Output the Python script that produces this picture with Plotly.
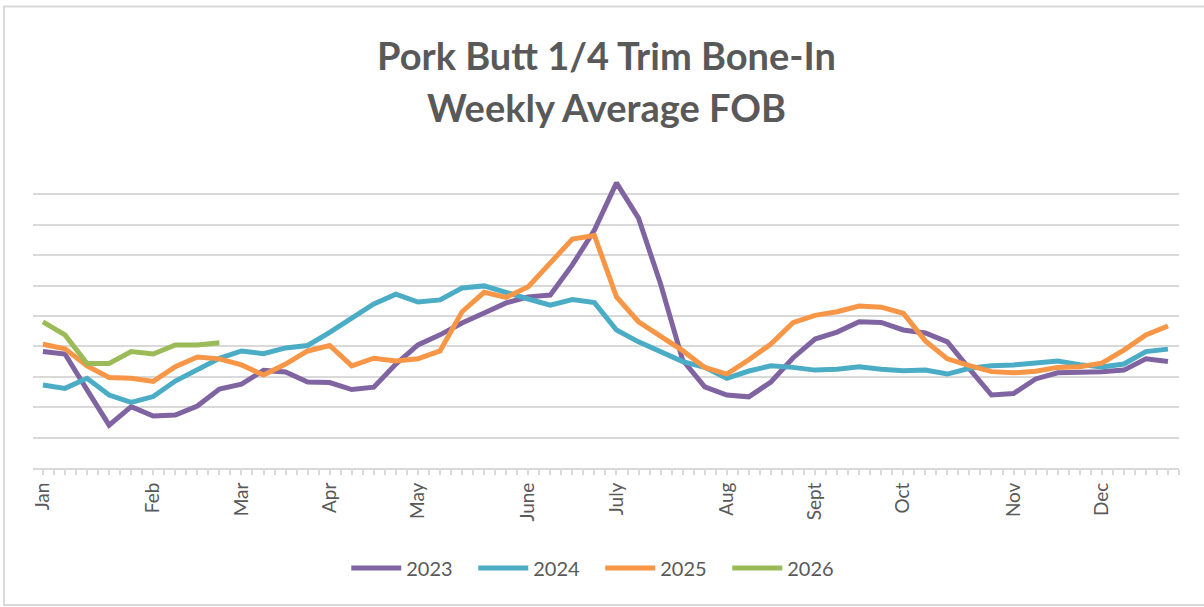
import plotly.graph_objects as go

weeks = list(range(52))
month_pos = [0, 5, 9, 13, 17, 22, 26, 31, 35, 39, 44, 48]
month_labels = ["Jan", "Feb", "Mar", "Apr", "May", "June", "July", "Aug", "Sept", "Oct", "Nov", "Dec"]

y2023 = [78.3, 77.5, 65.7, 54.1, 60.2, 57.1, 57.4, 60.4, 66.0, 67.6, 72.1, 71.6, 68.3, 68.1, 65.8, 66.6,
         74.2, 80.5, 83.8, 87.7, 91.0, 94.3, 96.3, 96.9, 106.8, 118.3, 133.8, 122.2, 100.5, 75.5, 66.7, 64.0,
         63.4, 68.3, 76.2, 82.4, 84.7, 88.1, 87.9, 85.4, 84.4, 81.5, 72.6, 64.0, 64.5, 69.3, 71.3, 71.3,
         71.7, 72.2, 75.9, 75.0]
y2024 = [67.3, 66.2, 69.5, 64.0, 61.6, 63.5, 68.6, 72.2, 76.1, 78.5, 77.6, 79.5, 80.3, 84.6, 89.2, 94.0,
         97.2, 94.6, 95.3, 99.2, 99.9, 97.6, 95.6, 93.6, 95.4, 94.4, 85.4, 81.5, 78.3, 75.0, 73.1, 69.5,
         71.9, 73.6, 73.1, 72.2, 72.5, 73.3, 72.5, 72.0, 72.2, 70.9, 72.8, 73.6, 73.9, 74.4, 75.2, 74.0,
         73.2, 74.2, 78.3, 79.1]
y2025 = [80.7, 79.2, 73.6, 69.8, 69.5, 68.5, 73.3, 76.5, 75.9, 73.9, 70.6, 74.2, 78.5, 80.3, 73.6, 76.1,
         75.2, 75.9, 78.5, 91.4, 97.8, 96.1, 99.6, 107.6, 115.3, 116.5, 96.3, 88.1, 83.5, 78.6, 73.1, 70.9,
         75.6, 80.8, 87.8, 90.2, 91.4, 93.3, 92.9, 90.9, 81.8, 75.9, 73.7, 71.7, 71.3, 71.8, 73.1, 73.3,
         74.5, 78.8, 83.8, 86.7]
y2026 = [88.1, 83.8, 74.4, 74.4, 78.3, 77.5, 80.5, 80.5, 81.2]

series = [
    ("2023", y2023, "#8064A2"),
    ("2024", y2024, "#4BACC6"),
    ("2025", y2025, "#F79646"),
    ("2026", y2026, "#9BBB59"),
]

font_family = "Lato, 'Open Sans', sans-serif"
text_color = "#595959"

fig = go.Figure()
for name, vals, color in series:
    fig.add_trace(go.Scatter(
        x=weeks[:len(vals)], y=vals, mode="lines", name=name,
        line=dict(color=color, width=5, shape="linear"),
        hoverinfo="x+y+name",
    ))

fig.update_layout(
    width=1204, height=607,
    margin=dict(l=33, r=25, t=164, b=139),
    paper_bgcolor="white", plot_bgcolor="white",
    font=dict(family=font_family, color=text_color),
    showlegend=True,
    legend=dict(orientation="h", x=0.495, y=-0.329, xanchor="center", yanchor="middle",
                font=dict(size=20, color=text_color), itemwidth=50,
                entrywidth=62, entrywidthmode="pixels",
                traceorder="normal", bgcolor="rgba(0,0,0,0)"),
    xaxis=dict(
        range=[-0.45, 51.5], tickmode="array", tickvals=month_pos, ticktext=month_labels,
        tickangle=-90, tickfont=dict(size=19, color=text_color),
        showgrid=False, zeroline=False, showline=True, linecolor="#d9d9d9", linewidth=2,
        ticks="outside", ticklen=5, tickcolor="#d9d9d9", tickwidth=2,
        minor=dict(dtick=0.5, tick0=-0.5, ticks="outside", ticklen=5, tickcolor="#d9d9d9", tickwidth=2,
                   showgrid=False),
    ),
    yaxis=dict(
        range=[40, 140], dtick=10, tick0=40, showticklabels=False, ticks="",
        showgrid=True, gridcolor="#d9d9d9", gridwidth=2, zeroline=False, showline=False,
    ),
    annotations=[
        dict(text="<b>Pork Butt 1/4 Trim Bone-In</b>", x=0.5, y=1.3586, xref="paper", yref="paper",
             xanchor="center", yanchor="middle", showarrow=False,
             font=dict(size=38, color=text_color, family=font_family)),
        dict(text="<b>Weekly Average FOB</b>", x=0.5, y=1.1875, xref="paper", yref="paper",
             xanchor="center", yanchor="middle", showarrow=False,
             font=dict(size=38, color=text_color, family=font_family)),
    ],
    shapes=[
        dict(type="rect", xref="paper", yref="paper", x0=-0.0253, x1=1.045, y0=-0.4507, y1=1.518,
             line=dict(color="#d9d9d9", width=2), fillcolor="rgba(0,0,0,0)", layer="below"),
    ],
)

fig.write_html("out.html", config={"displayModeBar": False},
               post_script="document.body.style.margin='0';document.body.style.overflow='hidden';")
